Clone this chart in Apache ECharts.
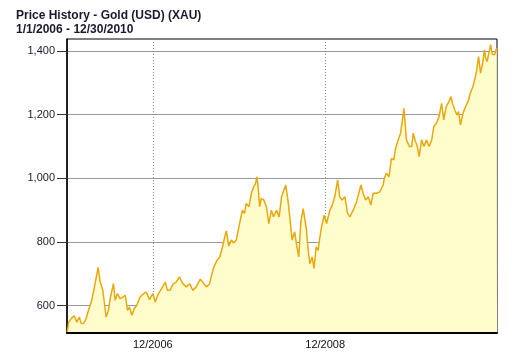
<!DOCTYPE html>
<html>
<head>
<meta charset="utf-8">
<script src="https://cdn.jsdelivr.net/npm/echarts@6/dist/echarts.min.js"></script>
<style>
html,body{margin:0;padding:0;background:#fff;}
#chart{width:518px;height:359px;}
</style>
</head>
<body>
<div id="chart"></div>
<script>
var titleText = 'Price History - Gold (USD) (XAU)';
var subtitleText = '1/1/2006 - 12/30/2010';

var dates = [
'2006-01-02','2006-01-08','2006-01-20','2006-01-31','2006-02-06','2006-02-11','2006-02-23','2006-03-01','2006-03-12','2006-03-23',
'2006-04-02','2006-04-16','2006-04-30','2006-05-13','2006-05-22','2006-06-02','2006-06-16','2006-06-26','2006-07-03','2006-07-17',
'2006-07-24','2006-08-03','2006-08-14','2006-08-26','2006-09-05','2006-09-15','2006-09-23','2006-10-03','2006-10-13','2006-10-24',
'2006-11-07','2006-11-22','2006-12-03','2006-12-17','2006-12-31','2007-01-10','2007-01-24','2007-02-07','2007-02-22','2007-03-03',
'2007-03-14','2007-03-26','2007-04-09','2007-04-23','2007-05-07','2007-05-22','2007-06-05','2007-06-19','2007-07-03','2007-07-20',
'2007-07-31','2007-08-15','2007-08-29','2007-09-06','2007-09-16','2007-09-30','2007-10-11','2007-10-23','2007-11-01','2007-11-08',
'2007-11-18','2007-11-29','2007-12-09','2007-12-20','2007-12-27','2008-01-06','2008-01-15','2008-01-24','2008-01-31','2008-02-12',
'2008-02-22','2008-03-03','2008-03-10','2008-03-17','2008-03-23','2008-03-28','2008-04-04','2008-04-15','2008-04-26','2008-05-06',
'2008-05-17','2008-05-26','2008-06-08','2008-06-19','2008-06-29','2008-07-17','2008-07-27','2008-08-03','2008-08-13','2008-08-24',
'2008-09-01','2008-09-10','2008-09-19','2008-09-29','2008-10-06','2008-10-13','2008-10-20','2008-10-27','2008-11-06','2008-11-14',
'2008-11-23','2008-12-01','2008-12-09','2008-12-16','2008-12-27','2009-01-06','2009-01-20','2009-01-30','2009-02-10','2009-02-22',
'2009-03-03','2009-03-13','2009-03-25','2009-04-05','2009-04-15','2009-04-29','2009-05-13','2009-06-01','2009-06-10','2009-06-21',
'2009-07-02','2009-07-13','2009-07-23','2009-08-07','2009-08-20','2009-09-03','2009-09-08','2009-09-17','2009-09-28','2009-10-08',
'2009-10-18','2009-10-26','2009-11-06','2009-11-16','2009-11-25','2009-11-30','2009-12-04','2009-12-11','2009-12-23','2010-01-02',
'2010-01-09','2010-01-16','2010-01-26','2010-02-03','2010-02-13','2010-02-23','2010-03-06','2010-03-17','2010-03-28','2010-04-06',
'2010-04-17','2010-04-28','2010-05-09','2010-05-18','2010-05-29','2010-06-09','2010-06-18','2010-06-24','2010-07-04','2010-07-13',
'2010-07-20','2010-07-28','2010-08-08','2010-08-19','2010-08-29','2010-09-08','2010-09-19','2010-09-28','2010-10-04','2010-10-13',
'2010-10-21','2010-10-29','2010-11-07','2010-11-12','2010-11-18','2010-11-26','2010-12-03','2010-12-10','2010-12-20','2010-12-29',
'2010-12-30'
];
var prices = [
517,548,560,568,560,548,564,545,543,559,
585,617,669,720,674,648,564,585,622,669,
617,638,622,627,632,585,596,570,590,601,
627,638,643,619,638,611,638,654,674,648,
648,667,674,690,669,659,669,648,659,683,
674,659,669,695,722,743,753,785,816,835,
787,806,797,806,832,869,900,890,921,911,
953,974,982,1005,963,911,937,932,911,858,
900,879,900,879,942,979,926,879,806,832,
790,753,863,905,911,837,774,732,753,717,
785,774,816,848,884,858,900,916,942,995,
942,932,942,890,879,900,926,979,953,932,
942,916,953,953,958,979,1000,1016,1005,1063,
1058,1095,1121,1142,1189,1220,1184,1121,1100,1100,
1142,1121,1100,1068,1121,1100,1121,1100,1121,1163,
1173,1194,1236,1184,1226,1241,1257,1236,1215,1199,
1210,1168,1205,1226,1241,1268,1289,1315,1336,1383,
1331,1357,1404,1378,1367,1373,1420,1389,1389,1410,
1405
];
var xStart = '2006-01-01';
var xEnd = '2010-12-30';
var xTickDates = ['2006-12-31', '2008-12-31'];
var xTickLabels = ['12/2006', '12/2008'];
var yTicks = [600, 800, 1000, 1200, 1400];
var yMin = 514;
var yMax = 1438;

function ts(s) {
  var p = s.split('-');
  return Date.UTC(+p[0], +p[1] - 1, +p[2]);
}
var seriesData = dates.map(function (d, i) { return [ts(d), prices[i]]; });
var xTickTs = xTickDates.map(ts);
var FONT = 'Liberation Sans, Arial, sans-serif';

var chart = echarts.init(document.getElementById('chart'), null, {renderer: 'canvas'});
chart.setOption({
  animation: false,
  backgroundColor: '#fff',
  title: {
    text: titleText + '\n' + subtitleText,
    left: 16,
    top: 9,
    padding: 0,
    textStyle: {fontFamily: FONT, fontSize: 12, fontWeight: 'bold', color: '#1a1a2e', lineHeight: 14}
  },
  grid: {left: 67, right: 21, top: 39, bottom: 26, show: true, borderColor: '#000', borderWidth: 1, backgroundColor: 'transparent'},
  xAxis: [{
    type: 'value',
    min: ts(xStart),
    max: ts(xEnd),
    axisLine: {show: false},
    axisTick: {show: false, customValues: xTickTs},
    axisLabel: {
      customValues: xTickTs,
      fontFamily: FONT, fontSize: 11, color: '#111', margin: 6,
      formatter: function (v) {
        var best = 0, bd = Infinity;
        for (var i = 0; i < xTickTs.length; i++) { var d = Math.abs(xTickTs[i] - v); if (d < bd) { bd = d; best = i; } }
        return xTickLabels[best];
      }
    },
    splitLine: {show: true, lineStyle: {color: '#888', width: 1, type: [1, 2]}}
  }, {
    type: 'value',
    position: 'bottom',
    min: ts(xStart),
    max: ts(xEnd),
    z: 10,
    axisLine: {show: true, lineStyle: {color: '#000', width: 2}},
    axisTick: {show: false},
    axisLabel: {show: false},
    splitLine: {show: false}
  }],
  yAxis: {
    type: 'value',
    min: yMin,
    max: yMax,
    axisLine: {show: true, lineStyle: {color: '#000', width: 1.5}},
    axisTick: {show: true, length: 10, customValues: yTicks, lineStyle: {color: '#333'}},
    axisLabel: {
      customValues: yTicks,
      fontFamily: FONT, fontSize: 11, color: '#1a1a2e', margin: 12,
      formatter: function (v) { return Number(v).toLocaleString('en-US'); }
    },
    splitLine: {show: true, lineStyle: {color: '#999', width: 1}}
  },
  series: [{
    type: 'line',
    xAxisIndex: 0,
    data: seriesData,
    showSymbol: false,
    symbol: 'none',
    lineStyle: {color: '#E8A80E', width: 1.5},
    areaStyle: {color: '#FFFDCB', opacity: 1},
    z: 2
  }]
});
</script>
</body>
</html>
